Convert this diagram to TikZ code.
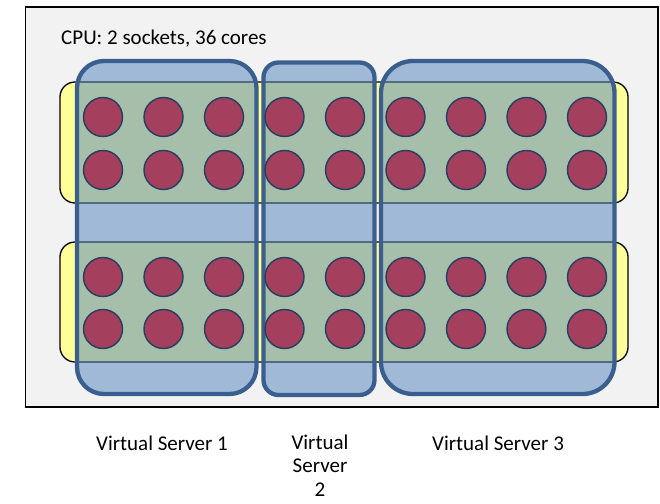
\documentclass[tikz,border=0pt]{standalone}
\usepackage{fontspec}
\setmainfont{Carlito}
\definecolor{panelgray}{HTML}{F2F2F2}
\definecolor{socketyellow}{HTML}{FFFF99}
\definecolor{vsfill}{HTML}{4F81BD}
\definecolor{vsline}{HTML}{3A5F8E}
\definecolor{corefill}{RGB}{165,63,94}
\definecolor{coreline}{HTML}{243F60}
\tikzset{
  panel/.style={draw=black, line width=1.5pt, fill=panelgray},
  socketbox/.style={draw=black, line width=1.3pt, fill=socketyellow, rounded corners=15pt},
  vserver/.style={draw=vsline, line width=4.3pt, fill=vsfill, fill opacity=0.5, draw opacity=1},
  core/.style={circle, draw=coreline, line width=1.4pt, fill=corefill, minimum size=39pt, inner sep=0pt},
  label/.style={font=\fontsize{21}{23.5}\selectfont, inner sep=0pt, text=black}
}
\begin{document}
\begin{tikzpicture}[x=1pt,y=-1pt]
  \useasboundingbox (0,0) rectangle (660,503);

  % host panel
  \draw[panel] (25.5,7) rectangle (658,407);
  \node[label, anchor=base west] (cpu) at (61,45) {CPU: 2 sockets, 36 cores};

  % two sockets
  \draw[socketbox] (60,82) rectangle (628,203);
  \draw[socketbox] (60,242) rectangle (628,362);

  % virtual servers (translucent, so sockets show through)
  \draw[vserver, rounded corners=27pt] (77,61) rectangle (256.5,394);
  \draw[vserver, rounded corners=15pt] (263.5,62.5) rectangle (374.5,395);
  \draw[vserver, rounded corners=32pt] (381,61) rectangle (614.5,394);

  % cores: 9 columns x 2 rows per socket
  \foreach \i in {0,...,8} {
    \foreach \y [count=\j] in {117,170,277,329} {
      \node[core] (c\i-\j) at ({103+60.5*\i},\y) {};
    }
  }

  % captions
  \node[label, anchor=base] (vs1) at (162,450) {Virtual Server 1};
  \node[label, anchor=north, align=center] (vs2) at (320,434.5) {Virtual\\Server\\2};
  \node[label, anchor=base] (vs3) at (498,450) {Virtual Server 3};
\end{tikzpicture}
\end{document}
